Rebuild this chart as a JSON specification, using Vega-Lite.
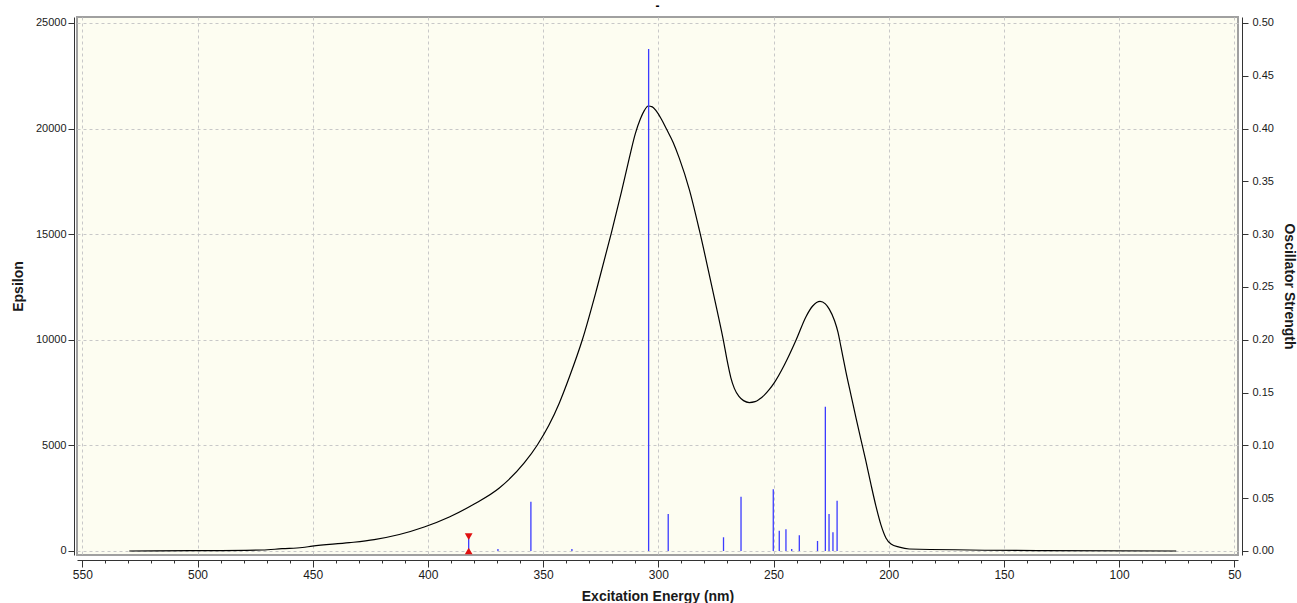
{
  "$schema": "https://vega.github.io/schema/vega-lite/v6.json",
  "autosize": {"type": "none"},
  "padding": {"left": 77, "top": 17, "right": 59, "bottom": 48},
  "width": 1161,
  "height": 538,
  "background": "white",
  "title": {"text": "-", "fontSize": 12, "fontWeight": "bold", "offset": 4, "color": "#000000", "font": "Liberation Sans"},
  "config": {
    "view": {"fill": "#fdfdf1", "stroke": "#a0a0a0", "strokeWidth": 2},
    "font": "Liberation Sans",
    "axis": {
      "labelFont": "Liberation Sans", "labelFontSize": 11, "labelColor": "#1a1a1a",
      "titleFont": "Liberation Sans", "titleFontSize": 14, "titleFontWeight": "bold", "titleColor": "#1a1a1a",
      "domainColor": "#333333", "tickColor": "#333333",
      "gridColor": "#c8c8c8", "gridDash": [3, 3], "gridWidth": 1
    }
  },
  "datasets": {
    "curve": [
      {"wavelength": 529.6, "epsilon": 0},
      {"wavelength": 502.7, "epsilon": 14},
      {"wavelength": 471.9, "epsilon": 47},
      {"wavelength": 463.3, "epsilon": 110},
      {"wavelength": 454.5, "epsilon": 165},
      {"wavelength": 450.2, "epsilon": 230},
      {"wavelength": 434.1, "epsilon": 393},
      {"wavelength": 423.3, "epsilon": 540},
      {"wavelength": 412.4, "epsilon": 780},
      {"wavelength": 401.6, "epsilon": 1136},
      {"wavelength": 390.7, "epsilon": 1610},
      {"wavelength": 379.9, "epsilon": 2225},
      {"wavelength": 369.0, "epsilon": 2983},
      {"wavelength": 358.2, "epsilon": 4167},
      {"wavelength": 352.5, "epsilon": 5019},
      {"wavelength": 347.5, "epsilon": 5950},
      {"wavelength": 343.0, "epsilon": 7000},
      {"wavelength": 338.6, "epsilon": 8239},
      {"wavelength": 333.0, "epsilon": 9991},
      {"wavelength": 326.5, "epsilon": 12500},
      {"wavelength": 320.4, "epsilon": 15050},
      {"wavelength": 316.0, "epsilon": 17000},
      {"wavelength": 312.6, "epsilon": 18600},
      {"wavelength": 310.0, "epsilon": 19750},
      {"wavelength": 307.8, "epsilon": 20450},
      {"wavelength": 306.1, "epsilon": 20850},
      {"wavelength": 304.4, "epsilon": 21071},
      {"wavelength": 302.6, "epsilon": 21030},
      {"wavelength": 300.9, "epsilon": 20834},
      {"wavelength": 298.7, "epsilon": 20455},
      {"wavelength": 296.5, "epsilon": 19990},
      {"wavelength": 293.5, "epsilon": 19330},
      {"wavelength": 290.9, "epsilon": 18600},
      {"wavelength": 286.5, "epsilon": 17100},
      {"wavelength": 282.2, "epsilon": 15200},
      {"wavelength": 277.9, "epsilon": 13100},
      {"wavelength": 274.4, "epsilon": 11350},
      {"wavelength": 271.8, "epsilon": 10000},
      {"wavelength": 270.0, "epsilon": 8950},
      {"wavelength": 268.5, "epsilon": 8200},
      {"wavelength": 267.0, "epsilon": 7700},
      {"wavelength": 265.0, "epsilon": 7320},
      {"wavelength": 263.0, "epsilon": 7120},
      {"wavelength": 260.5, "epsilon": 7030},
      {"wavelength": 258.0, "epsilon": 7070},
      {"wavelength": 256.2, "epsilon": 7180},
      {"wavelength": 254.0, "epsilon": 7380},
      {"wavelength": 251.8, "epsilon": 7650},
      {"wavelength": 249.7, "epsilon": 7960},
      {"wavelength": 245.3, "epsilon": 8807},
      {"wavelength": 240.2, "epsilon": 9991},
      {"wavelength": 235.9, "epsilon": 11094},
      {"wavelength": 233.0, "epsilon": 11600},
      {"wavelength": 229.8, "epsilon": 11820},
      {"wavelength": 227.5, "epsilon": 11700},
      {"wavelength": 225.8, "epsilon": 11450},
      {"wavelength": 223.5, "epsilon": 10900},
      {"wavelength": 222.0, "epsilon": 10350},
      {"wavelength": 220.7, "epsilon": 9650},
      {"wavelength": 218.5, "epsilon": 8450},
      {"wavelength": 216.3, "epsilon": 7350},
      {"wavelength": 214.2, "epsilon": 6300},
      {"wavelength": 212.0, "epsilon": 5250},
      {"wavelength": 209.9, "epsilon": 4250},
      {"wavelength": 207.8, "epsilon": 3200},
      {"wavelength": 205.6, "epsilon": 2150},
      {"wavelength": 203.4, "epsilon": 1250},
      {"wavelength": 201.2, "epsilon": 620},
      {"wavelength": 199.0, "epsilon": 330},
      {"wavelength": 195.4, "epsilon": 180},
      {"wavelength": 191.1, "epsilon": 95},
      {"wavelength": 133.3, "epsilon": 20},
      {"wavelength": 75.2, "epsilon": 0}
    ],
    "sticks": [
      {"wavelength": 382.3, "strength": 0.014},
      {"wavelength": 369.6, "strength": 0.002},
      {"wavelength": 355.3, "strength": 0.0467},
      {"wavelength": 337.5, "strength": 0.002},
      {"wavelength": 304.2, "strength": 0.4754},
      {"wavelength": 295.7, "strength": 0.035},
      {"wavelength": 271.7, "strength": 0.013},
      {"wavelength": 264.1, "strength": 0.0514},
      {"wavelength": 250.1, "strength": 0.0584},
      {"wavelength": 247.5, "strength": 0.0192},
      {"wavelength": 244.6, "strength": 0.0205},
      {"wavelength": 242.1, "strength": 0.002},
      {"wavelength": 238.8, "strength": 0.0149},
      {"wavelength": 230.9, "strength": 0.0095},
      {"wavelength": 227.5, "strength": 0.1367},
      {"wavelength": 225.9, "strength": 0.035},
      {"wavelength": 224.2, "strength": 0.0177},
      {"wavelength": 222.4, "strength": 0.0476}
    ],
    "marker": [
      {"wavelength": 382.3, "strength": 0.0137, "end": "top"},
      {"wavelength": 382.3, "strength": 0, "end": "bottom"}
    ]
  },
  "resolve": {"scale": {"y": "independent"}, "axis": {"x": "independent"}},
  "layer": [
    {
      "data": {"name": "curve"},
      "mark": {"type": "line", "color": "#000000", "strokeWidth": 1.2, "interpolate": "monotone"},
      "encoding": {
        "x": {
          "field": "wavelength", "type": "quantitative",
          "scale": {"domain": [48.4, 552.3], "reverse": true, "nice": false, "zero": false},
          "axis": {
            "values": [550, 500, 450, 400, 350, 300, 250, 200, 150, 100, 50],
            "orient": "bottom", "offset": 5, "tickSize": 7, "labelFontSize": 12, "labelPadding": 2,
            "title": "Excitation Energy (nm)", "titlePadding": 9, "grid": true, "labelFlush": false
          }
        },
        "y": {
          "field": "epsilon", "type": "quantitative",
          "scale": {"domain": [-189.4, 25284], "nice": false, "zero": false},
          "axis": {
            "values": [0, 5000, 10000, 15000, 20000, 25000], "format": "d",
            "offset": 3, "tickSize": 6, "labelPadding": 2,
            "title": "Epsilon", "titlePadding": 10, "grid": true
          }
        }
      }
    },
    {
      "layer": [
        {
          "data": {"name": "sticks"},
          "mark": {"type": "rule", "color": "#3b3bff", "strokeWidth": 1.3},
          "encoding": {
            "x": {
              "field": "wavelength", "type": "quantitative",
              "scale": {"domain": [48.4, 552.3], "reverse": true, "nice": false, "zero": false},
              "axis": {
                "values": [540, 530, 520, 510, 490, 480, 470, 460, 440, 430, 420, 410, 390, 380, 370, 360, 340, 330, 320, 310, 290, 280, 270, 260, 240, 230, 220, 210, 190, 180, 170, 160, 140, 130, 120, 110, 90, 80, 70, 60],
                "orient": "bottom", "offset": 5, "tickSize": 3, "labels": false, "title": null, "grid": false, "domain": false
              }
            },
            "y": {
              "field": "strength", "type": "quantitative",
              "scale": {"domain": [-0.00379, 0.50568], "nice": false, "zero": false},
              "axis": {
                "orient": "right", "values": [0, 0.05, 0.1, 0.15, 0.2, 0.25, 0.3, 0.35, 0.4, 0.45, 0.5],
                "format": ".2f", "offset": 4, "tickSize": 6, "labelPadding": 4,
                "title": "Oscillator Strength", "titlePadding": 8, "grid": false
              }
            },
            "y2": {"datum": 0}
          }
        },
        {
          "data": {"name": "marker"},
          "mark": {"type": "point", "filled": true, "color": "#e01010", "size": 60, "opacity": 1},
          "encoding": {
            "x": {
              "field": "wavelength", "type": "quantitative",
              "scale": {"domain": [48.4, 552.3], "reverse": true, "nice": false, "zero": false},
              "axis": {
                "values": [540, 530, 520, 510, 490, 480, 470, 460, 440, 430, 420, 410, 390, 380, 370, 360, 340, 330, 320, 310, 290, 280, 270, 260, 240, 230, 220, 210, 190, 180, 170, 160, 140, 130, 120, 110, 90, 80, 70, 60],
                "orient": "bottom", "offset": 5, "tickSize": 3, "labels": false, "title": null, "grid": false, "domain": false
              }
            },
            "y": {
              "field": "strength", "type": "quantitative",
              "scale": {"domain": [-0.00379, 0.50568], "nice": false, "zero": false},
              "axis": {
                "orient": "right", "values": [0, 0.05, 0.1, 0.15, 0.2, 0.25, 0.3, 0.35, 0.4, 0.45, 0.5],
                "format": ".2f", "offset": 4, "tickSize": 6, "labelPadding": 4,
                "title": "Oscillator Strength", "titlePadding": 8, "grid": false
              }
            },
            "shape": {
              "field": "end", "type": "nominal",
              "scale": {"domain": ["top", "bottom"], "range": ["triangle-down", "triangle-up"]},
              "legend": null
            }
          }
        }
      ]
    }
  ]
}
